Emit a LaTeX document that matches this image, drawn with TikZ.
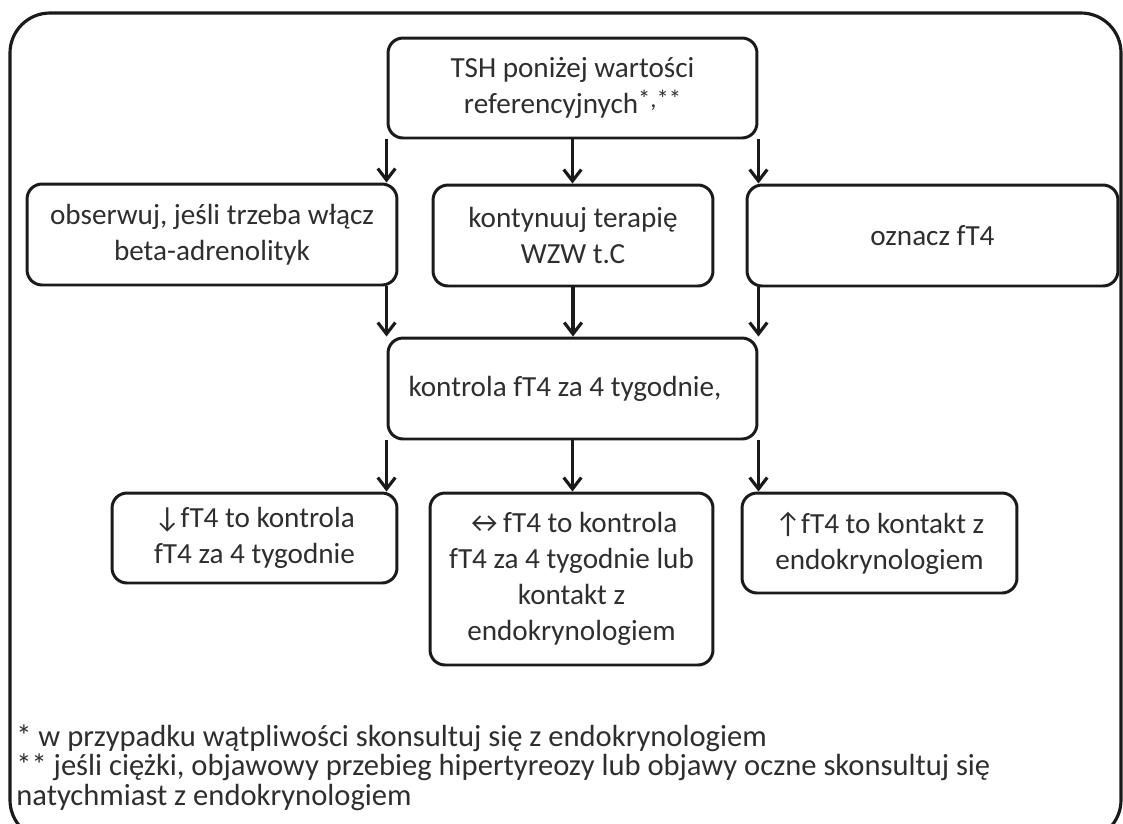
\documentclass[tikz,border=0pt]{standalone}
\usepackage{fontspec}
\setmainfont{Carlito}
\usetikzlibrary{arrows.meta}
\definecolor{ln}{HTML}{1A1A1A}
\definecolor{tx}{HTML}{2E2E2E}
\begin{document}
\begin{tikzpicture}[x=0.02cm,y=-0.02cm,
  box/.style={draw=ln, line width=1.7pt, rounded corners=0.3cm, align=center, text=tx,
    font=\fontsize{16.6}{20.5}\selectfont, inner sep=0pt},
  arr/.style={draw=ln, line width=1.8pt, -{Straight Barb[length=6.5pt,width=10pt,line width=1.8pt]}},
  note/.style={anchor=base west, text=tx, font=\fontsize{17.4}{17}\selectfont, inner sep=0pt}]
\clip (0,0) rectangle (1123,823);
\draw[ln, line width=1.8pt, rounded corners=0.8cm] (10,13) rectangle (1121,840);
\node[box, minimum width=7.38cm, minimum height=2cm] (top) at (572.5,88)
  {TSH poniżej wartości\\referencyjnych\raisebox{0.45ex}{\fontsize{14}{14}\selectfont *,**}};
\node[box, minimum width=7.4cm, minimum height=2.02cm] (l2) at (212,234.5)
  {obserwuj, jeśli trzeba włącz\\beta-adrenolityk};
\node[box, minimum width=5.6cm, minimum height=2.02cm] (m2) at (573,235.5)
  {kontynuuj terapię\\WZW t.C};
\node[box, minimum width=7.42cm, minimum height=2.02cm] (r2) at (932.5,235.5)
  {oznacz fT4};
\node[box, minimum width=7.38cm, minimum height=2.02cm] (mid) at (572.5,388.5)
  {kontrola fT4 za 4 tygodnie,\hspace*{0.3cm}};
\node[box, minimum width=5.7cm, minimum height=1.8cm] (b1) at (254.5,538)
  {↓fT4 to kontrola\\fT4 za 4 tygodnie};
\node[box, minimum width=5.66cm, minimum height=3.44cm] (b2) at (571.5,579)
  {↔fT4 to kontrola\\fT4 za 4 tygodnie lub\\kontakt z\\endokrynologiem};
\node[box, minimum width=5.5cm, minimum height=2cm] (b3) at (879.5,543)
  {↑fT4 to kontakt z\\endokrynologiem};
\draw[arr] (top.south west) -- (top.south west |- l2.north);
\draw[arr] (top.south) -- (top.south |- m2.north);
\draw[arr] (top.south east) -- (top.south east |- r2.north);
\draw[arr] (mid.north west |- l2.south) -- (mid.north west);
\draw[arr] (m2.south) -- (m2.south |- mid.north);
\draw[arr] (mid.north east |- r2.south) -- (mid.north east);
\draw[arr] (mid.south west) -- (mid.south west |- b1.north);
\draw[arr] (mid.south) -- (mid.south |- b2.north);
\draw[arr] (mid.south east) -- (mid.south east |- b3.north);
\node[note] (n1) at (16,746) {* w przypadku wątpliwości skonsultuj się z endokrynologiem};
\node[note] (n2) at (16,775) {** jeśli ciężki, objawowy przebieg hipertyreozy lub objawy oczne skonsultuj się};
\node[note] (n3) at (16,805) {natychmiast z endokrynologiem};
\end{tikzpicture}
\end{document}
